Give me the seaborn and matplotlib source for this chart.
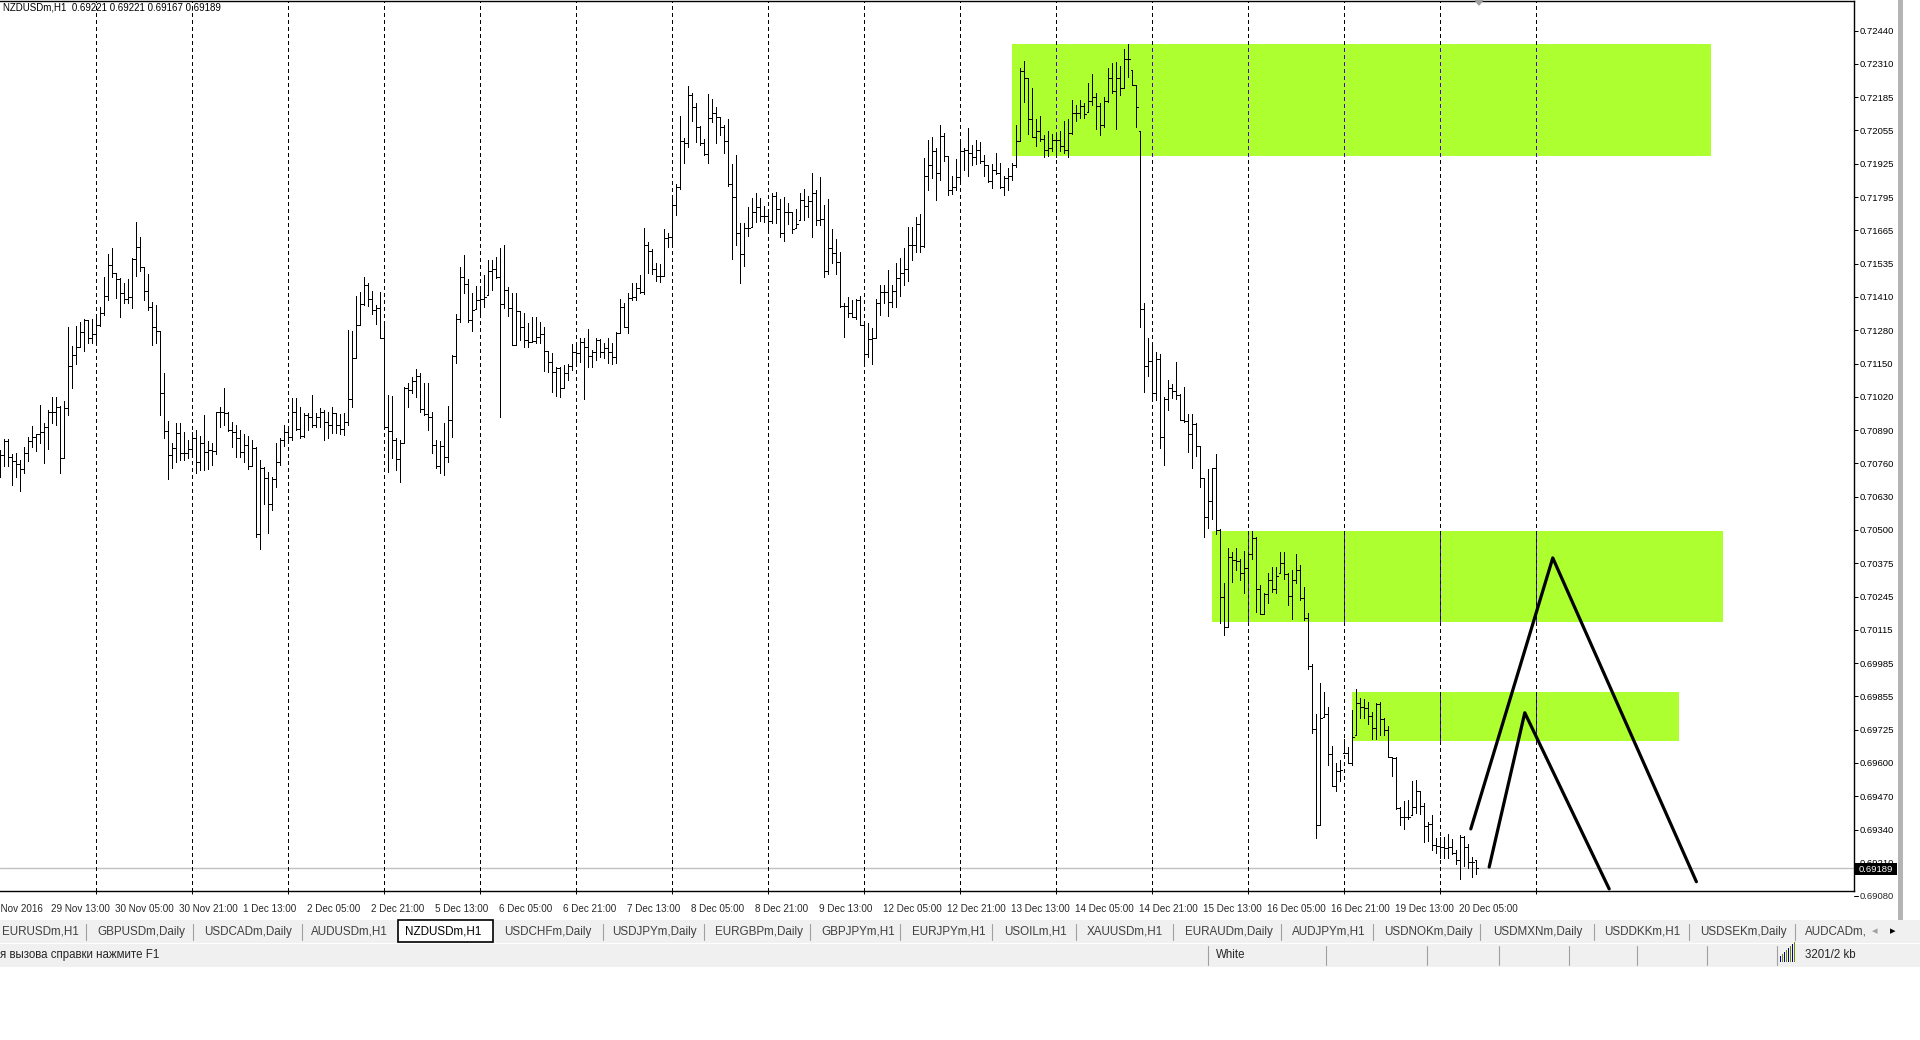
import numpy as np
import matplotlib
matplotlib.use("Agg")
import matplotlib.pyplot as plt
import seaborn as sns
from matplotlib.patches import Rectangle, Polygon

# NZDUSDm H1 bars, prices in points (1e-5)
high_pts = [
    70812, 70854, 70854, 70797, 70802, 70774, 70823, 70861, 70905, 70874,  # 0
    70987, 70916, 70968, 71017, 71019, 70983, 71001, 71291, 71216, 71294,
    71310, 71320, 71317, 71322, 71326, 71366, 71485, 71572, 71598, 71498,
    71479, 71459, 71475, 71556, 71696, 71638, 71521, 71496, 71386, 71375,
    71272, 71110, 70925, 70841, 70916, 70916, 70880, 70851, 70880, 70890,
    70867, 70948, 70847, 70841, 70961, 70980, 71052, 70961, 70922, 70909,  # 50
    70890, 70874, 70868, 70851, 70823, 70774, 70745, 70728, 70709, 70841,
    70858, 70909, 70890, 71013, 71013, 70980, 70957, 70957, 71026, 70955,
    70974, 70968, 70961, 70980, 70955, 70952, 70955, 71276, 71274, 71410,
    71427, 71483, 71462, 71431, 71375, 71427, 71298, 71026, 71022, 70858,
    70851, 71058, 71071, 71097, 71125, 71112, 71071, 71071, 70961, 70851,  # 100
    70845, 70916, 70983, 71179, 71340, 71524, 71569, 71476, 71423, 71449,
    71446, 71492, 71550, 71550, 71563, 71595, 71608, 71446, 71423, 71420,
    71352, 71343, 71304, 71327, 71327, 71310, 71289, 71197, 71188, 71136,
    71136, 71142, 71146, 71224, 71233, 71246, 71246, 71282, 71200, 71246,
    71241, 71226, 71245, 71229, 71271, 71397, 71381, 71423, 71459, 71459,  # 150
    71491, 71672, 71621, 71591, 71539, 71533, 71668, 71653, 71789, 71843,
    72108, 72022, 72226, 72199, 72158, 72070, 72018, 72194, 72173, 72145,
    72106, 72073, 72095, 71922, 71957, 71692, 71692, 71754, 71789, 71808,
    71789, 71759, 71741, 71811, 71815, 71785, 71795, 71769, 71737, 71746,
    71808, 71824, 71798, 71886, 71821, 71873, 71763, 71785, 71668, 71630,  # 200
    71582, 71381, 71407, 71394, 71397, 71411, 71304, 71304, 71284, 71397,
    71452, 71452, 71511, 71452, 71536, 71559, 71598, 71678, 71679, 71717,
    71728, 71946, 72015, 72027, 71985, 72074, 72043, 71954, 71877, 71943,
    72020, 71985, 72061, 71997, 72015, 72009, 71959, 71920, 71923, 71966,
    71928, 71877, 71905, 71928, 72074, 72296, 72322, 72255, 72219, 72097,  # 250
    72107, 72035, 72051, 72040, 72043, 72051, 72089, 72097, 72169, 72153,
    72169, 72158, 72235, 72273, 72196, 72158, 72181, 72296, 72316, 72319,
    72304, 72368, 72388, 72288, 72227, 72051, 71383, 71245, 71229, 71191,
    71186, 71017, 71083, 71068, 71153, 71030, 71056, 70953, 70953, 70915,
    70827, 70702, 70740, 70743, 70796, 70504, 70294, 70430, 70417, 70430,  # 300
    70387, 70419, 70417, 70497, 70475, 70287, 70255, 70333, 70359, 70359,
    70417, 70417, 70333, 70346, 70410, 70365, 70281, 70181, 69983, 69787,
    69906, 69873, 69813, 69662, 69595, 69608, 69692, 69660, 69802, 69886,
    69851, 69844, 69832, 69796, 69831, 69835, 69770, 69740, 69621, 69619,
    69427, 69450, 69453, 69528, 69531, 69489, 69440, 69369, 69395, 69304,  # 350
    69310, 69310, 69323, 69300, 69259, 69317, 69313, 69282, 69233, 69221,
]
low_pts = [
    70709, 70748, 70748, 70676, 70709, 70654, 70722, 70771, 70825, 70810,  # 0
    70838, 70761, 70815, 70916, 70909, 70724, 70780, 70946, 71052, 71146,
    71211, 71198, 71226, 71229, 71220, 71294, 71336, 71395, 71485, 71401,
    71330, 71382, 71382, 71365, 71489, 71505, 71395, 71356, 71220, 71226,
    70948, 70860, 70698, 70741, 70767, 70774, 70774, 70780, 70786, 70724,
    70735, 70735, 70737, 70754, 70796, 70900, 70909, 70887, 70823, 70784,  # 50
    70786, 70767, 70737, 70748, 70473, 70427, 70601, 70491, 70579, 70670,
    70754, 70828, 70851, 70851, 70890, 70858, 70864, 70890, 70903, 70903,
    70903, 70849, 70858, 70877, 70877, 70874, 70871, 70909, 70977, 71168,
    71298, 71375, 71371, 71340, 71302, 71246, 70896, 70728, 70780, 70735,
    70689, 70838, 70978, 71035, 71017, 70961, 70948, 70890, 70799, 70741,  # 100
    70722, 70715, 70767, 70864, 71149, 71307, 71423, 71310, 71272, 71358,
    71343, 71369, 71414, 71433, 71479, 70939, 71362, 71333, 71220, 71220,
    71239, 71213, 71211, 71233, 71226, 71226, 71120, 71116, 71039, 71023,
    71019, 71052, 71084, 71123, 71155, 71155, 71010, 71136, 71136, 71162,
    71172, 71168, 71148, 71146, 71148, 71265, 71291, 71265, 71394, 71394,  # 150
    71423, 71417, 71500, 71495, 71469, 71465, 71487, 71599, 71617, 71724,
    71825, 71927, 71989, 72090, 72009, 71996, 71957, 71927, 72086, 72002,
    72035, 71963, 71837, 71552, 71608, 71459, 71527, 71643, 71679, 71698,
    71702, 71698, 71663, 71694, 71694, 71637, 71624, 71689, 71655, 71672,
    71705, 71705, 71718, 71637, 71685, 71685, 71485, 71495, 71536, 71495,  # 200
    71366, 71249, 71329, 71327, 71319, 71297, 71152, 71172, 71144, 71245,
    71336, 71384, 71333, 71366, 71366, 71410, 71452, 71467, 71549, 71582,
    71582, 71601, 71820, 71866, 71782, 71862, 71935, 71800, 71805, 71823,
    71851, 71900, 71877, 71917, 71923, 71925, 71877, 71851, 71828, 71882,
    71831, 71800, 71823, 71859, 71912, 72012, 72163, 72040, 72027, 71994,  # 250
    72012, 71948, 71954, 71974, 71948, 71974, 71966, 71951, 72040, 72089,
    72101, 72101, 72123, 72150, 72058, 72035, 72066, 72163, 72196, 72058,
    72189, 72219, 72261, 72227, 72066, 71291, 71037, 71099, 71011, 71007,
    70818, 70753, 70968, 71014, 71011, 70930, 70922, 70803, 70743, 70787,
    70669, 70475, 70511, 70546, 70485, 70141, 70093, 70126, 70300, 70348,  # 300
    70309, 70258, 70296, 70387, 70184, 70175, 70175, 70219, 70262, 70258,
    70333, 70313, 70210, 70154, 70294, 70229, 70152, 69960, 69712, 69304,
    69358, 69776, 69589, 69507, 69489, 69528, 69634, 69595, 69589, 69705,
    69770, 69770, 69748, 69692, 69692, 69705, 69705, 69621, 69546, 69417,
    69356, 69339, 69378, 69395, 69401, 69399, 69291, 69295, 69259, 69246,  # 350
    69230, 69230, 69230, 69243, 69204, 69145, 69197, 69188, 69155, 69167,
]
close_pts = [
    70793, 70845, 70784, 70771, 70758, 70737, 70799, 70847, 70864, 70874,  # 0
    70880, 70900, 70961, 70959, 70978, 70780, 70974, 71138, 71179, 71211,
    71269, 71317, 71246, 71261, 71298, 71345, 71410, 71530, 71498, 71475,
    71420, 71397, 71405, 71554, 71599, 71521, 71430, 71369, 71291, 71272,
    71032, 70886, 70793, 70819, 70877, 70799, 70799, 70816, 70858, 70764,
    70838, 70803, 70812, 70810, 70960, 70961, 70957, 70890, 70883, 70858,  # 50
    70806, 70832, 70750, 70819, 70486, 70741, 70702, 70601, 70698, 70764,
    70851, 70883, 70861, 70959, 70893, 70867, 70948, 70939, 70909, 70939,
    70961, 70920, 70909, 70955, 70909, 70893, 70920, 71010, 71168, 71298,
    71378, 71453, 71397, 71356, 71362, 71248, 70903, 70886, 70851, 70776,
    70838, 71054, 71045, 71078, 71100, 70971, 70952, 70942, 70832, 70751,  # 100
    70828, 70786, 70929, 71177, 71320, 71483, 71457, 71317, 71356, 71395,
    71397, 71405, 71505, 71514, 71485, 71379, 71433, 71365, 71220, 71352,
    71289, 71239, 71233, 71237, 71252, 71263, 71197, 71153, 71114, 71129,
    71052, 71110, 71140, 71191, 71188, 71230, 71213, 71175, 71191, 71239,
    71191, 71209, 71191, 71174, 71267, 71366, 71289, 71401, 71407, 71439,  # 150
    71426, 71608, 71586, 71514, 71489, 71489, 71634, 71640, 71762, 71834,
    72011, 72002, 72192, 72145, 72067, 72002, 71961, 72102, 72119, 72106,
    72064, 72013, 71844, 71795, 71653, 71573, 71672, 71672, 71734, 71756,
    71721, 71721, 71702, 71799, 71746, 71653, 71737, 71737, 71668, 71689,
    71782, 71759, 71778, 71808, 71705, 71709, 71507, 71595, 71575, 71543,  # 200
    71371, 71372, 71342, 71329, 71394, 71297, 71183, 71241, 71245, 71381,
    71426, 71426, 71385, 71430, 71478, 71498, 71513, 71608, 71608, 71690,
    71602, 71874, 71917, 71971, 71886, 72031, 71954, 71820, 71833, 71871,
    71974, 71978, 71963, 71951, 71977, 71935, 71917, 71856, 71897, 71889,
    71833, 71866, 71877, 71917, 72012, 72285, 72255, 72097, 72027, 72051,  # 250
    72020, 71978, 71986, 72015, 72015, 71994, 71977, 72043, 72120, 72120,
    72147, 72117, 72166, 72181, 72147, 72074, 72166, 72255, 72204, 72255,
    72219, 72331, 72331, 72227, 72143, 71360, 71137, 71156, 71033, 71165,
    70864, 71011, 71053, 71042, 71027, 70930, 70925, 70873, 70912, 70827,
    70702, 70550, 70614, 70743, 70501, 70240, 70126, 70395, 70385, 70381,  # 300
    70333, 70352, 70410, 70472, 70274, 70177, 70252, 70307, 70274, 70324,
    70375, 70329, 70246, 70309, 70346, 70236, 70158, 69973, 69727, 69358,
    69772, 69787, 69631, 69508, 69567, 69569, 69637, 69595, 69696, 69831,
    69813, 69809, 69780, 69731, 69826, 69767, 69725, 69621, 69615, 69421,
    69388, 69388, 69386, 69427, 69489, 69431, 69352, 69360, 69278, 69274,  # 350
    69272, 69268, 69272, 69246, 69222, 69310, 69269, 69213, 69213, 69189,
]
last_ohlc = [0.69221, 0.69221, 0.69167, 0.69189]
symbol = "NZDUSDm,H1"

price_labels = ["0.72440", "0.72310", "0.72185", "0.72055", "0.71925", "0.71795", "0.71665",
                "0.71535", "0.71410", "0.71280", "0.71150", "0.71020", "0.70890", "0.70760",
                "0.70630", "0.70500", "0.70375", "0.70245", "0.70115", "0.69985", "0.69855",
                "0.69725", "0.69600", "0.69470", "0.69340", "0.69210", "0.69080"]
time_labels = ["28 Nov 2016", "29 Nov 13:00", "30 Nov 05:00", "30 Nov 21:00", "1 Dec 13:00",
               "2 Dec 05:00", "2 Dec 21:00", "5 Dec 13:00", "6 Dec 05:00", "6 Dec 21:00",
               "7 Dec 13:00", "8 Dec 05:00", "8 Dec 21:00", "9 Dec 13:00", "12 Dec 05:00",
               "12 Dec 21:00", "13 Dec 13:00", "14 Dec 05:00", "14 Dec 21:00", "15 Dec 13:00",
               "16 Dec 05:00", "16 Dec 21:00", "19 Dec 13:00", "20 Dec 05:00"]

# zones drawn on the chart: (first bar, last bar, top, bottom)
zone_bars = [(252.9, 427.7), (302.9, 430.7), (337.9, 419.7)]
zone_prices = [(0.72390, 0.71955), (0.70497, 0.70145), (0.69872, 0.69682)]
# hand drawn pattern lines
pattern_a_bars = [367.6, 388.1, 424.0]
pattern_a_prices = [0.69341, 0.70393, 0.69136]
pattern_b_bars = [372.2, 381.1, 402.2]
pattern_b_prices = [0.69193, 0.69792, 0.69108]

tabs = ["EURUSDm,H1", "GBPUSDm,Daily", "USDCADm,Daily", "AUDUSDm,H1", "NZDUSDm,H1",
        "USDCHFm,Daily", "USDJPYm,Daily", "EURGBPm,Daily", "GBPJPYm,H1", "EURJPYm,H1",
        "USOILm,H1", "XAUUSDm,H1", "EURAUDm,Daily", "AUDJPYm,H1", "USDNOKm,Daily",
        "USDMXNm,Daily", "USDDKKm,H1", "USDSEKm,Daily", "AUDCADm,"]
tab_x = [2, 97, 204, 311, 405, 504, 612, 715, 821, 912, 1004, 1087, 1185, 1292, 1384,
         1493, 1604, 1700, 1805]
tab_sep_x = [86, 193, 302, 603, 704, 810, 900, 992, 1076, 1173, 1281, 1373, 1480, 1594, 1689, 1795]
status_sep_x = [1208, 1326, 1427, 1499, 1569, 1637, 1707, 1777]

sns.set_theme(style="white")
plt.rcParams['font.family'] = ['Liberation Sans', 'DejaVu Sans']

W, H = 1920, 1040
fig = plt.figure(figsize=(W / 100, H / 100), dpi=100)
fig.patch.set_facecolor("white")
ax = fig.add_axes([0, (H - 891) / H, 1854 / W, 890 / H])
ax.set_facecolor("white")

hi = np.array(high_pts) / 1e5
lo = np.array(low_pts) / 1e5
cl = np.array(close_pts) / 1e5
op = np.r_[cl[0], cl[:-1]]          # H1 forex: open = previous close
op[-1] = last_ohlc[0]
op = np.clip(op, lo, hi)
x = np.arange(len(hi))

ax.set_xlim(-0.075, 463.4)
ax.set_ylim(0.69100, 0.72555)

# zones, grid and current price line
for (b0, b1), (top, bot) in zip(zone_bars, zone_prices):
    ax.add_patch(Rectangle((b0, bot), b1 - b0, top - bot, facecolor="#adff2f",
                           edgecolor="none", zorder=1))
grid_bars = np.arange(24, 385, 24)
ax.vlines(grid_bars, 0.69100, 0.72555, colors="black", lw=0.72,
          linestyles=(0, (3, 3)), zorder=2, antialiased=False)
for (b0, b1), (top, bot) in zip(zone_bars, zone_prices):
    inside = grid_bars[(grid_bars > b0) & (grid_bars < b1)]
    ax.vlines(inside, bot, top, colors="#5200d0", lw=0.72,
              linestyles=(0, (3, 3)), zorder=2.1, antialiased=False)
ax.axhline(last_ohlc[3], color="#c0c0c0", lw=1.0, zorder=1.5)

# OHLC bars
ax.vlines(x, lo, hi, colors="black", lw=0.72, zorder=3, antialiased=False)
ax.hlines(op, x - 0.4, x, colors="black", lw=0.72, zorder=3, antialiased=False)
ax.hlines(cl, x, x + 0.4, colors="black", lw=0.72, zorder=3, antialiased=False)

# pattern lines
for bx, py in [(pattern_a_bars, pattern_a_prices), (pattern_b_bars, pattern_b_prices)]:
    sns.lineplot(x=bx, y=py, ax=ax, color="black", lw=2.3, sort=False,
                 estimator=None, zorder=5)

# frame
for s in ["top", "right", "bottom"]:
    ax.spines[s].set_visible(True)
    ax.spines[s].set_color("black")
    ax.spines[s].set_linewidth(1.0)
ax.spines["left"].set_visible(False)
ax.grid(False)

# price scale
step = (0.72440 - 0.69080) / 26
price_pos = [0.72440 - k * step for k in range(27)]
ax.yaxis.tick_right()
ax.set_yticks(price_pos[:-1])
ax.set_yticklabels(price_labels[:-1])
ax.tick_params(axis="y", right=True, left=False, labelright=True, labelleft=False,
               direction="out", length=2.9, width=0.72, pad=1.4, labelsize=6.8,
               colors="black")
ax.annotate(price_labels[-1], xy=(1, price_pos[-1]), xycoords=("axes fraction", "data"),
            xytext=(4.3, 0), textcoords="offset points", ha="left", va="center",
            fontsize=6.8, annotation_clip=False)
ax.plot([1, 1 + 4 / 1854], [price_pos[-1]] * 2, transform=ax.get_yaxis_transform(),
        color="black", lw=0.72, clip_on=False)

# time scale
ax.set_xticks(grid_bars)
ax.set_xticklabels([])
ax.tick_params(axis="x", bottom=True, direction="out", length=2.2, width=0.72, colors="black")
for k, lab in enumerate(time_labels):
    ax.annotate(lab, xy=(-4 + 16 * k, 0), xycoords=("data", "axes fraction"),
                xytext=(1.8, -13), textcoords="offset points", ha="left", va="center",
                fontsize=7.1, annotation_clip=False)

# window chrome in pixel coordinates
ui = fig.add_axes([0, 0, 1, 1], zorder=5)
ui.set_xlim(0, W)
ui.set_ylim(H, 0)
ui.axis("off")
ui.patch.set_alpha(0)

ui.text(3, 8, symbol + "  " + " ".join(f"{v:.5f}" for v in last_ohlc),
        fontsize=7.0, va="center", ha="left", color="black")
ui.add_patch(Polygon([(1475, 0), (1483, 0), (1479, 5)], color="#a0a0a0"))
ui.add_patch(Rectangle((1898, 0), 5, 920, color="#b4b4b4", lw=0))

# current price label
ui.add_patch(Rectangle((1855, 863), 42, 12, color="black", lw=0))
ui.text(1859, 869, f"{last_ohlc[3]:.5f}", color="white", fontsize=6.8, va="center", ha="left")

# tab strip
ui.add_patch(Rectangle((0, 920), W, 23, color="#f0f0f0", lw=0))
ui.add_patch(Rectangle((398, 920), 95, 22, facecolor="white", edgecolor="black", lw=1.2))
for sx in tab_sep_x:
    ui.plot([sx, sx], [924, 940], color="#a0a0a0", lw=0.8)
for tx, t in zip(tab_x, tabs):
    ui.text(tx, 932, t, fontsize=8.4, va="center", ha="left",
            color="black" if t == symbol else "#404040", clip_on=True)
ui.add_patch(Rectangle((1866, 921), 54, 21, color="#f0f0f0", lw=0))
ui.text(1872, 931, "\u25c2", fontsize=8, va="center", color="#a0a0a0",
        family=["DejaVu Sans"])
ui.text(1890, 931, "\u25b8", fontsize=8, va="center", color="black",
        family=["DejaVu Sans"])

# status bar
ui.add_patch(Rectangle((0, 944), W, 23, color="#f0f0f0", lw=0))
ui.text(0, 955, "я вызова справки нажмите F1", fontsize=8.3, va="center", ha="left")
ui.text(1216, 955, "White", fontsize=8.3, va="center", ha="left")
for sx in status_sep_x:
    ui.plot([sx, sx], [946, 965], color="#a0a0a0", lw=0.8)
for k in range(8):
    ui.add_patch(Rectangle((1780 + 2 * k, 962 - 2 * k - 6), 1.2, 2 * k + 6,
                           color="#6b8e00" if k % 2 else "#000080", lw=0))
ui.text(1805, 955, "3201/2 kb", fontsize=8.3, va="center", ha="left")

fig.savefig("out.png", dpi=100, facecolor="white")
